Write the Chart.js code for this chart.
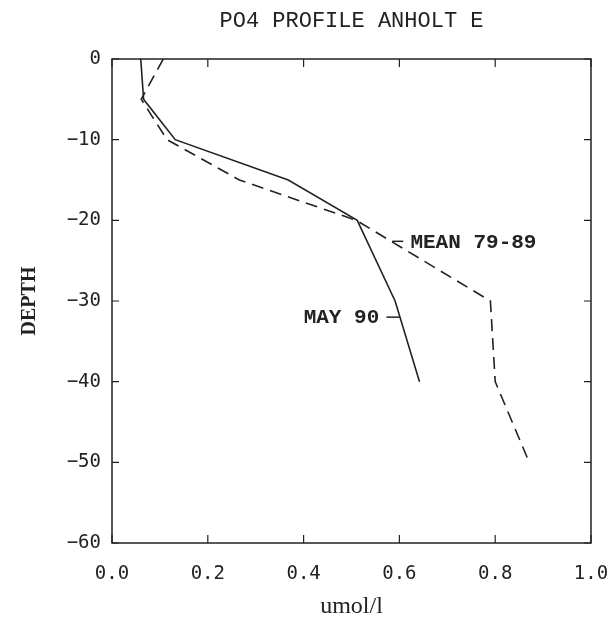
<!DOCTYPE html>
<html>
<head>
<meta charset="utf-8">
<script src="https://cdn.jsdelivr.net/npm/chart.js@4/dist/chart.umd.min.js"></script>
<style>
  html, body { margin: 0; padding: 0; background: #fff; }
  #wrap { width: 615px; height: 617px; }
</style>
</head>
<body>
<div id="wrap"><canvas id="c" width="615" height="617"></canvas></div>
<script>
// PO4 profile, Anholt E
const depthMay = [0, -5, -10, -15, -20, -30, -40];
const may90 = [0.06, 0.066, 0.132, 0.368, 0.512, 0.591, 0.642];

const depthMean = [0, -5, -10, -15, -20, -30, -40, -50];
const mean7989 = [0.107, 0.061, 0.115, 0.266, 0.51, 0.79, 0.80, 0.871];

const xTicks = [0, 0.2, 0.4, 0.6, 0.8, 1.0];
const yTicks = [0, -10, -20, -30, -40, -50, -60];

// label positions in data coords, with a short leader dash
const labels = [
  { text: 'MEAN 79-89', x: 0.623, y: -22.6, lx1: 0.585, lx2: 0.608, align: 'left' },
  { text: 'MAY 90', x: 0.558, y: -32.0, lx1: 0.573, lx2: 0.600, align: 'right' },
];

const INK = '#222';

// frame, inward ticks, title and line labels
const decor = {
  id: 'decor',
  afterDraw(chart) {
    const { ctx, chartArea: a, scales: { x, y } } = chart;
    ctx.save();
    ctx.strokeStyle = INK;
    ctx.lineWidth = 1.5;
    ctx.strokeRect(a.left, a.top, a.right - a.left, a.bottom - a.top);

    ctx.lineWidth = 1.2;
    ctx.beginPath();
    xTicks.forEach(v => {
      const px = x.getPixelForValue(v);
      ctx.moveTo(px, a.bottom); ctx.lineTo(px, a.bottom - 8);
      ctx.moveTo(px, a.top); ctx.lineTo(px, a.top + 8);
    });
    yTicks.forEach(v => {
      const py = y.getPixelForValue(v);
      ctx.moveTo(a.left, py); ctx.lineTo(a.left + 7, py);
      ctx.moveTo(a.right, py); ctx.lineTo(a.right - 7, py);
    });
    ctx.stroke();

    // title centred on plot
    ctx.fillStyle = INK;
    ctx.font = '22px "Liberation Mono"';
    ctx.textAlign = 'center';
    ctx.textBaseline = 'middle';
    ctx.fillText('PO4 PROFILE ANHOLT E', (a.left + a.right) / 2, 21);

    ctx.font = 'bold 21px "Liberation Mono"';
    ctx.lineWidth = 1.5;
    labels.forEach(l => {
      const py = y.getPixelForValue(l.y);
      ctx.beginPath();
      ctx.moveTo(x.getPixelForValue(l.lx1), py);
      ctx.lineTo(x.getPixelForValue(l.lx2), py);
      ctx.stroke();
      ctx.textAlign = l.align;
      ctx.fillText(l.text, x.getPixelForValue(l.x), py + 1);
    });
    ctx.restore();
  }
};

new Chart(document.getElementById('c'), {
  type: 'line',
  data: {
    datasets: [
      {
        label: 'MAY 90',
        data: may90.map((v, i) => ({ x: v, y: depthMay[i] })),
        borderColor: INK,
        borderWidth: 1.6,
        pointRadius: 0,
        tension: 0,
        fill: false,
      },
      {
        label: 'MEAN 79-89',
        data: mean7989.map((v, i) => ({ x: v, y: depthMean[i] })),
        borderColor: INK,
        borderWidth: 1.6,
        borderDash: [12, 7],
        pointRadius: 0,
        tension: 0,
        fill: false,
      },
    ],
  },
  options: {
    responsive: false,
    animation: false,
    layout: { padding: { top: 59, right: 24, left: 0, bottom: 0 } },
    plugins: {
      legend: { display: false },
      tooltip: { enabled: false },
    },
    scales: {
      x: {
        type: 'linear',
        min: 0,
        max: 1,
        afterBuildTicks: s => { s.ticks = xTicks.map(v => ({ value: v })); },
        afterFit: s => { s.height = 74; s.paddingLeft = 0; s.paddingRight = 0; },
        grid: { display: false, drawTicks: false },
        border: { display: false },
        ticks: {
          padding: 20,
          color: INK,
          font: { family: '"DejaVu Sans Mono"', size: 19 },
          callback: v => Number(v).toFixed(1),
        },
        title: {
          display: true,
          text: 'umol/l',
          color: INK,
          font: { family: '"Liberation Serif"', size: 24, lineHeight: 1 },
          padding: { top: 0, bottom: -2 },
        },
      },
      y: {
        type: 'linear',
        min: -60,
        max: 0,
        afterBuildTicks: s => { s.ticks = yTicks.map(v => ({ value: v })); },
        afterFit: s => { s.width = 112; s.paddingTop = 0; s.paddingBottom = 0; },
        grid: { display: false, drawTicks: false },
        border: { display: false },
        ticks: {
          padding: 11,
          color: INK,
          font: { family: '"DejaVu Sans Mono"', size: 19 },
          callback: v => (v < 0 ? '\u2212' + Math.abs(v) : String(v)),
        },
        title: {
          display: true,
          text: 'DEPTH',
          color: INK,
          font: { family: '"Liberation Serif"', size: 20, weight: 'bold', lineHeight: 1.2 },
          padding: { top: 18, bottom: 0 },
        },
      },
    },
  },
  plugins: [decor],
});
</script>
</body>
</html>
